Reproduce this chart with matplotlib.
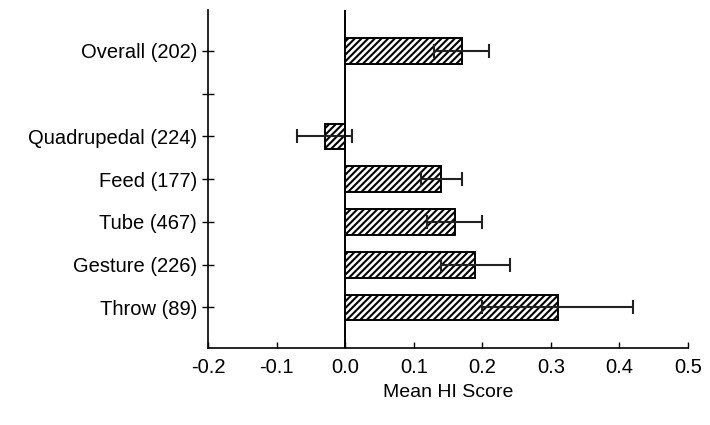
import matplotlib
matplotlib.use("Agg")
import matplotlib.pyplot as plt
import numpy as np

plt.rcParams['font.family'] = ['Liberation Sans', 'DejaVu Sans']
plt.rcParams['hatch.linewidth'] = 1.5

categories = ["Throw (89)", "Gesture (226)", "Tube (467)", "Feed (177)",
              "Quadrupedal (224)", "", "Overall (202)"]
means = [0.31, 0.19, 0.16, 0.14, -0.03, np.nan, 0.17]
errors = [0.11, 0.05, 0.04, 0.03, 0.04, np.nan, 0.04]
xticks = [-0.2, -0.1, 0.0, 0.1, 0.2, 0.3, 0.4, 0.5]

fig = plt.figure(figsize=(7.1, 4.25), dpi=100)
ax = fig.add_axes([0.293, 0.181, 0.676, 0.795])

y = np.arange(len(categories))
mask = ~np.isnan(means)
ax.barh(y[mask], np.array(means)[mask], height=0.6, color='white',
        edgecolor='black', hatch='/////', linewidth=1.4, zorder=2)
ax.errorbar(np.array(means)[mask], y[mask], xerr=np.array(errors)[mask],
            fmt='none', ecolor='#222222', elinewidth=1.5, capsize=5,
            capthick=1.5, zorder=3)
ax.axvline(0, color='black', linewidth=1.4, zorder=4)

ax.set_xlim(-0.2, 0.5)
ax.set_ylim(-0.95, 6.95)
ax.set_xticks(xticks)
ax.set_xticklabels([f"{v:.1f}" for v in xticks])
ax.set_yticks(y)
ax.set_yticklabels(categories)
ax.tick_params(axis='both', labelsize=14.5, width=1, colors='black')
ax.tick_params(axis='y', direction='inout', length=8, pad=4)
ax.tick_params(axis='x', direction='in', length=4, pad=7)
ax.spines['top'].set_visible(False)
ax.spines['right'].set_visible(False)
ax.spines['left'].set_linewidth(1.2)
ax.spines['bottom'].set_linewidth(1.2)
ax.set_xlabel("Mean HI Score", fontsize=14, labelpad=5)

fig.savefig("out.png", dpi=100)
